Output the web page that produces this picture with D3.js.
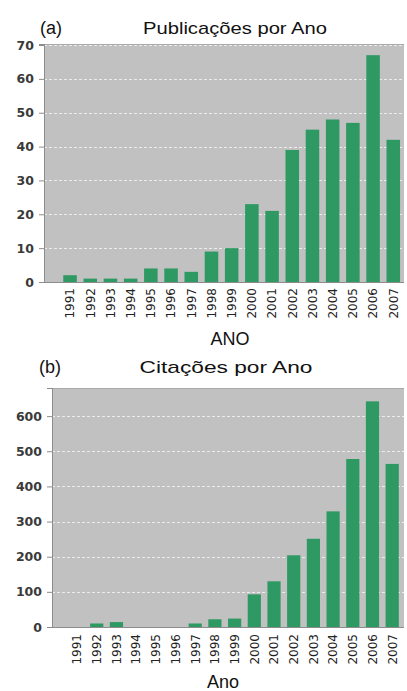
<!DOCTYPE html>
<html>
<head>
<meta charset="utf-8">
<script src="https://d3js.org/d3.v7.min.js"></script>
<style>
  body { margin: 0; background: #fff; }
  svg { display: block; }
</style>
</head>
<body>
<svg id="chart"></svg>
<script>
  var width = 407;
  var height = 691;

  var years = ["1991", "1992", "1993", "1994", "1995", "1996", "1997", "1998", "1999",
               "2000", "2001", "2002", "2003", "2004", "2005", "2006", "2007"];
  var publicacoes = [2, 1, 1, 1, 4, 4, 3, 9, 10, 23, 21, 39, 45, 48, 47, 67, 42];
  var citacoes = [0, 10, 14, 0, 0, 0, 10, 22, 24, 93, 130, 204, 251, 329, 478, 642, 464];
  var ticksA = [0, 10, 20, 30, 40, 50, 60, 70];
  var ticksB = [0, 100, 200, 300, 400, 500, 600];

  var barColor = "#2e9963";
  var plotBg = "#c1c1c1";

  var svg = d3.select("#chart")
    .attr("width", width)
    .attr("height", height);

  // one panel per chart, positions
  function drawPanel(opt) {
    var g = svg.append("g");

    var x = d3.scaleBand()
      .domain(years)
      .range([opt.left, opt.right])
      .paddingInner(0.33)
      .paddingOuter(opt.padOuter)
      .align(opt.align);

    var y = d3.scaleLinear()
      .domain([0, opt.ymax])
      .range([opt.bottom, opt.top]);

    // plot background
    g.append("rect")
      .attr("x", opt.left)
      .attr("y", opt.top)
      .attr("width", opt.right - opt.left)
      .attr("height", opt.bottom - opt.top)
      .attr("fill", plotBg);

    g.append("line")
      .attr("x1", opt.left).attr("x2", opt.right)
      .attr("y1", opt.top + 0.5).attr("y2", opt.top + 0.5)
      .attr("stroke", "#a9a9a9");

    // dashed grid
    g.selectAll(".grid")
      .data(opt.ticks.filter(function(d) { return d > 0; }))
      .enter().append("line")
      .attr("x1", opt.left).attr("x2", opt.right)
      .attr("y1", function(d) { return Math.round(y(d)) + 0.5; })
      .attr("y2", function(d) { return Math.round(y(d)) + 0.5; })
      .attr("stroke", "#ececec")
      .attr("stroke-width", 1)
      .attr("stroke-dasharray", "3,2");

    // bars
    g.selectAll(".bar")
      .data(opt.values)
      .enter().append("rect")
      .attr("x", function(d, i) { return x(years[i]); })
      .attr("width", x.bandwidth())
      .attr("y", function(d) { return y(d); })
      .attr("height", function(d) { return y(0) - y(d); })
      .attr("fill", barColor);

    // y axis
    var yAxis = g.append("g")
      .attr("transform", "translate(" + opt.left + ",0)")
      .call(d3.axisLeft(y).tickValues(opt.ticks).tickSize(opt.tickSize).tickPadding(opt.tickPad));
    yAxis.select(".domain").attr("stroke", "#8c8c8c");
    yAxis.selectAll(".tick line").attr("stroke", "#8c8c8c");
    yAxis.selectAll("text")
      .attr("fill", "#3a3a3a")
      .style("font-family", "DejaVu Sans")
      .style("font-weight", "bold")
      .style("font-size", "12.5px");

    // x axis
    var xAxis = g.append("g")
      .attr("transform", "translate(0," + opt.bottom + ")")
      .call(d3.axisBottom(x).tickSize(0).tickPadding(0));
    xAxis.select(".domain")
      .attr("stroke", "#8c8c8c")
      .attr("d", "M" + (opt.left - opt.tickSize) + ",0.5H" + opt.right);
    xAxis.selectAll("text")
      .attr("transform", "rotate(-90)")
      .attr("x", -opt.labelGap)
      .attr("y", 0)
      .attr("dy", "0.36em")
      .attr("text-anchor", "end")
      .attr("fill", "#222")
      .style("font-family", "DejaVu Sans")
      .style("font-size", "12px");

    // titles
    g.append("text")
      .attr("x", opt.tagX).attr("y", opt.titleY)
      .text(opt.tag)
      .style("font-family", "Liberation Sans")
      .style("font-size", "18px")
      .attr("fill", "#111");

    g.append("text")
      .attr("x", opt.titleX).attr("y", opt.titleY)
      .attr("text-anchor", "middle")
      .attr("textLength", opt.titleLen)
      .attr("lengthAdjust", "spacingAndGlyphs")
      .text(opt.title)
      .style("font-family", "Liberation Sans")
      .style("font-size", "17px")
      .attr("fill", "#111");

    g.append("text")
      .attr("x", opt.xLabelX).attr("y", opt.xLabelY)
      .attr("text-anchor", "middle")
      .text(opt.xLabel)
      .style("font-family", "Liberation Sans")
      .style("font-size", "18px")
      .attr("fill", "#111");
  }

  drawPanel({
    values: publicacoes, ticks: ticksA, ymax: 70.3,
    left: 44, right: 404, top: 44, bottom: 282,
    padOuter: 0.575, align: 0.83, tickSize: 5, tickPad: 5, labelGap: 6,
    tag: "(a)", tagX: 40, title: "Publicações por Ano", titleX: 235, titleLen: 184, titleY: 34,
    xLabel: "ANO", xLabelX: 230, xLabelY: 345
  });

  drawPanel({
    values: citacoes, ticks: ticksB, ymax: 680,
    left: 52, right: 404, top: 388, bottom: 627,
    padOuter: 0.6, align: 0.78, tickSize: 5, tickPad: 5, labelGap: 7,
    tag: "(b)", tagX: 39, title: "Citações por Ano", titleX: 226, titleLen: 173, titleY: 373,
    xLabel: "Ano", xLabelX: 223, xLabelY: 688
  });
</script>
</body>
</html>
